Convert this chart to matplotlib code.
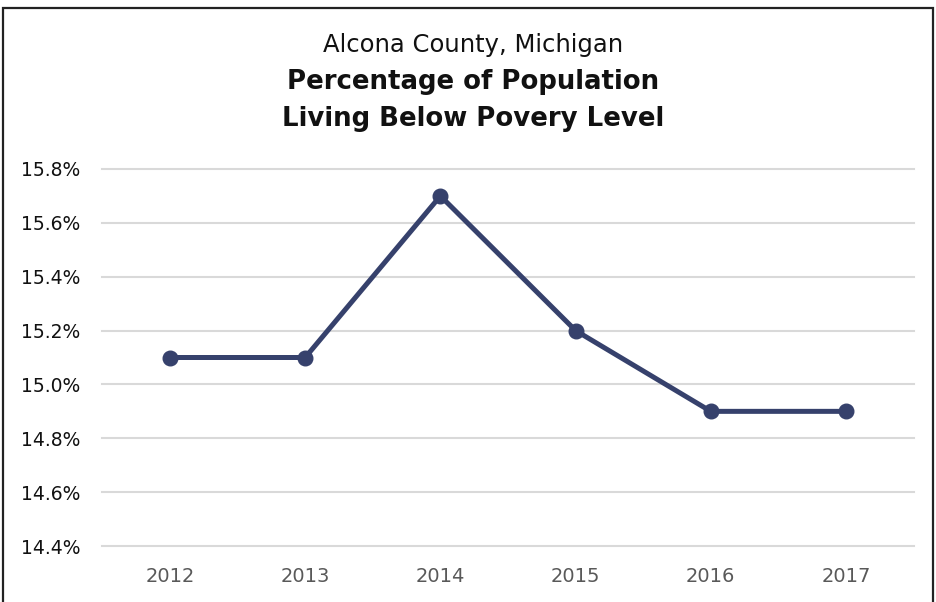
import matplotlib
matplotlib.use("Agg")
import matplotlib.pyplot as plt
from matplotlib.patches import Rectangle
from matplotlib.ticker import FuncFormatter

years = ["2012", "2013", "2014", "2015", "2016", "2017"]
poverty_pct = [15.1, 15.1, 15.7, 15.2, 14.9, 14.9]
y_ticks = [14.4, 14.6, 14.8, 15.0, 15.2, 15.4, 15.6, 15.8]

title_line1 = "Alcona County, Michigan"
title_line2 = "Percentage of Population"
title_line3 = "Living Below Povery Level"

plt.rcParams['font.family'] = ['DejaVu Sans']

fig = plt.figure(figsize=(9.36, 6.02), dpi=100)
W, H = 936, 602
ax = fig.add_axes([102.4 / W, 1 - 546 / H, (913.6 - 102.4) / W, (546 - 169) / H])

x = list(range(len(years)))
ax.plot(x, poverty_pct, color="#36416C", linewidth=3.6, marker="o",
        markersize=10.5, solid_joinstyle="miter", zorder=3, clip_on=False)

ax.set_xlim(-0.5, len(years) - 0.5)
ax.set_ylim(14.4, 15.8)
ax.set_yticks(y_ticks)
ax.yaxis.set_major_formatter(FuncFormatter(lambda v, p: f"{v:.1f}%"))
ax.set_xticks(x)
ax.set_xticklabels(years)
ax.grid(axis="y", color="#D9D9D9", linewidth=1.5)
for gl in ax.get_ygridlines():
    gl.set_clip_on(False)
ax.set_axisbelow(True)
for s in ax.spines.values():
    s.set_visible(False)
ax.tick_params(axis="both", length=0)
ax.tick_params(axis="y", labelsize=13.5, labelcolor="#111111", pad=16)
ax.tick_params(axis="x", labelsize=14, labelcolor="#595959", pad=15)

cx = 473 / W
fig.text(cx, 1 - 45 / H, title_line1, ha="center", va="center", fontsize=17.5, color="#111111")
fig.text(cx, 1 - 82 / H, title_line2, ha="center", va="center", fontsize=18.7, fontweight="bold", color="#111111")
fig.text(cx, 1 - 119 / H, title_line3, ha="center", va="center", fontsize=18.7, fontweight="bold", color="#111111")

border = Rectangle((3 / W, -0.1), (933 - 3) / W, 1.1 - 8 / H, transform=fig.transFigure,
                   fill=False, edgecolor="#222222", linewidth=1.6, clip_on=False)
fig.patches.append(border)

fig.savefig("out.png", dpi=100)
